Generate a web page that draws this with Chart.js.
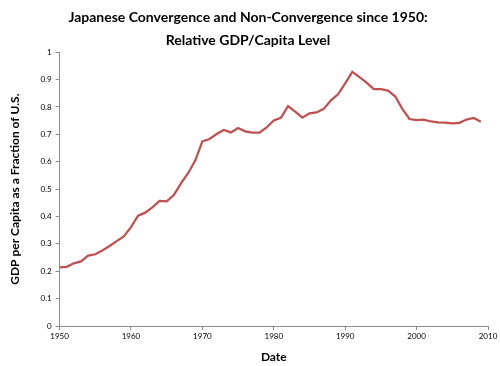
<!DOCTYPE html>
<html>
<head>
<meta charset="utf-8">
<script src="https://cdn.jsdelivr.net/npm/chart.js@4/dist/chart.umd.min.js"></script>
<style>
  html, body { margin: 0; padding: 0; background: #fff; }
  #wrap { width: 500px; height: 366px; }
</style>
</head>
<body>
<div id="wrap"><canvas id="gdpChart" width="500" height="366"></canvas></div>
<script>
// Japan GDP per capita as a fraction of U.S.
const years = [
  1950, 1951, 1952, 1953, 1954, 1955, 1956, 1957, 1958, 1959,
  1960, 1961, 1962, 1963, 1964, 1965, 1966, 1967, 1968, 1969,
  1970, 1971, 1972, 1973, 1974, 1975, 1976, 1977, 1978, 1979,
  1980, 1981, 1982, 1983, 1984, 1985, 1986, 1987, 1988, 1989,
  1990, 1991, 1992, 1993, 1994, 1995, 1996, 1997, 1998, 1999,
  2000, 2001, 2002, 2003, 2004, 2005, 2006, 2007, 2008, 2009
];
const relGdp = [
  0.214, 0.216, 0.229, 0.236, 0.257, 0.262, 0.276, 0.292, 0.310, 0.327,
  0.361, 0.403, 0.414, 0.433, 0.457, 0.455, 0.478, 0.521, 0.558, 0.604,
  0.674, 0.683, 0.701, 0.716, 0.707, 0.723, 0.711, 0.706, 0.706, 0.725,
  0.751, 0.760, 0.803, 0.783, 0.761, 0.777, 0.780, 0.793, 0.824, 0.846,
  0.886, 0.928, 0.909, 0.889, 0.865, 0.865, 0.860, 0.839, 0.793, 0.756,
  0.752, 0.754, 0.747, 0.744, 0.743, 0.740, 0.742, 0.754, 0.760, 0.746
];
const xTicks = [1950, 1960, 1970, 1980, 1990, 2000, 2010];
const yTicks = [0, 0.1, 0.2, 0.3, 0.4, 0.5, 0.6, 0.7, 0.8, 0.9, 1];

const points = years.map((yr, i) => ({ x: yr, y: relGdp[i] }));

const axisGrey = '#8c8c8c';
const family = "Lato, 'Liberation Sans', sans-serif";
const tickFont = { family: family, size: 8 };
const boldFont = { family: family, weight: 'bold' };

const config = {
  type: 'line',
  data: {
    datasets: [{
      label: 'Japan / U.S.',
      data: points,
      borderColor: '#c0504d',
      borderWidth: 2.25,
      pointRadius: 0,
      tension: 0,
      fill: false
    }]
  },
  options: {
    responsive: false,
    animation: false,
    layout: { padding: { left: 8, right: 12, top: 0, bottom: 2 } },
    plugins: {
      legend: { display: false },
      tooltip: { enabled: false },
      title: {
        display: true,
        text: ['Japanese Convergence and Non-Convergence since 1950:', 'Relative GDP/Capita Level'],
        color: '#000',
        font: { ...boldFont, size: 14, lineHeight: 1.65 },
        padding: { top: 6, bottom: 0 }
      }
    },
    scales: {
      x: {
        type: 'linear',
        min: 1950,
        max: 2010,
        afterBuildTicks: axis => { axis.ticks = xTicks.map(v => ({ value: v })); },
        ticks: {
          color: '#000',
          font: tickFont,
          padding: 2,
          maxRotation: 0,
          callback: v => String(v)
        },
        grid: { drawOnChartArea: false, drawTicks: true, tickLength: 4, color: axisGrey },
        border: { color: axisGrey, width: 1 },
        title: {
          display: true,
          text: 'Date',
          color: '#000',
          font: { ...boldFont, size: 12 },
          padding: { top: 6, bottom: 0 }
        }
      },
      y: {
        min: 0,
        max: 1,
        afterBuildTicks: axis => { axis.ticks = yTicks.map(v => ({ value: v })); },
        ticks: {
          color: '#000',
          font: tickFont,
          padding: 4,
          callback: v => String(Math.round(v * 10) / 10)
        },
        grid: { drawOnChartArea: false, drawTicks: true, tickLength: 4, color: axisGrey },
        border: { color: axisGrey, width: 1 },
        title: {
          display: true,
          text: 'GDP per Capita as a Fraction of U.S.',
          color: '#000',
          font: { ...boldFont, size: 12 },
          padding: { top: 0, bottom: 14 }
        }
      }
    }
  }
};

new Chart(document.getElementById('gdpChart').getContext('2d'), config);
</script>
</body>
</html>
